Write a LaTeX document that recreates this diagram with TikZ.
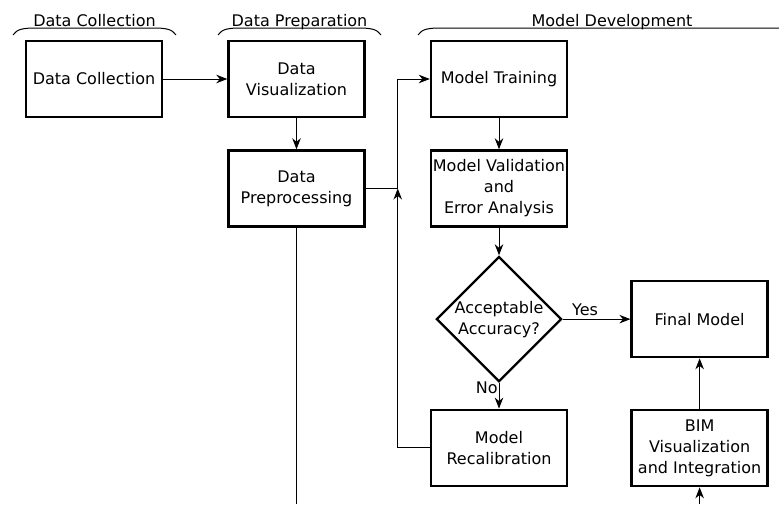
\documentclass[tikz,border=0pt]{standalone}
\usepackage{fontspec}
\setmainfont{DejaVu Sans}
\usetikzlibrary{arrows.meta, positioning, shapes.geometric, calc}

\begin{document}
\begin{tikzpicture}[
    font=\fontsize{16}{21}\selectfont,
    box/.style={rectangle, draw=black, line width=2.4pt, minimum width=136pt,
      minimum height=76pt, inner xsep=1pt, align=center},
    decision/.style={diamond, draw=black, line width=2.4pt, aspect=1,
      inner sep=0pt, minimum width=124pt, align=center},
    arr/.style={-{Stealth[length=11pt, width=8.5pt, inset=3.5pt]}, line width=0.9pt},
    line/.style={line width=0.9pt},
    phase/.style={line width=1pt},
    node distance=31.1pt and 64.1pt]
    \useasboundingbox (0,0) rectangle (779pt,-504pt);
    % phases
    \foreach \a/\b/\n/\t in {13pt/176pt/pc/Data Collection,
        218pt/381pt/pp/Data Preparation, 418pt/806pt/pm/Model Development}{
      \draw[phase] (\a,-35pt) .. controls (\a+4pt,-29pt) and (\a+10pt,-28pt) .. (\a+24pt,-28pt)
        -- (\b-24pt,-28pt) .. controls (\b-10pt,-28pt) and (\b-4pt,-29pt) .. (\b,-35pt);
      \node[anchor=base] (\n) at ({(\a+\b)/2},-26pt) {\t};
    }
    % steps
    \node[box] (dc) at (94pt,-79pt) {Data Collection};
    \node[box, right=of dc] (dv) {Data\\Visualization};
    \node[box, below=of dv] (dp) {Data\\Preprocessing};
    \node[box, right=of dv] (mt) {Model Training};
    \node[box, below=of mt] (mv) {Model Validation\\and\\Error Analysis};
    \node[decision, below=27.6pt of mv] (acc) {Acceptable\\Accuracy?};
    \node[box, right=67.6pt of acc] (fm) {Final Model};
    \node[box, below=25.6pt of acc] (rec) {Model\\Recalibration};
    \node[box, below=50.6pt of fm] (bim) {BIM\\Visualization\\and Integration};
    \coordinate (j) at ($(dp.east)!0.5!(mv.west)$);
    \coordinate (bot) at (0,-504pt);
    \coordinate (dpout) at (dp |- bot);
    \coordinate (bimin) at (bim |- bot);
    % connectors
    \draw[arr] (dc) -- (dv);
    \draw[arr] (dv) -- (dp);
    \draw[arr] (dp.east) -- (j) |- (mt.west);
    \draw[arr] (rec.west) -| (j);
    \draw[arr] (mt) -- (mv);
    \draw[arr] (mv) -- (acc);
    \draw[arr] (acc) -- node[pos=0.33, above]{Yes} (fm);
    \draw[arr] (acc) -- node[pos=0.2, left, inner sep=1pt]{No} (rec);
    \draw[arr] (bim) -- (fm);
    \draw[line] (dp) -- (dpout);
    \draw[arr] (bimin) -- (bim);
  \end{tikzpicture}
\end{document}
